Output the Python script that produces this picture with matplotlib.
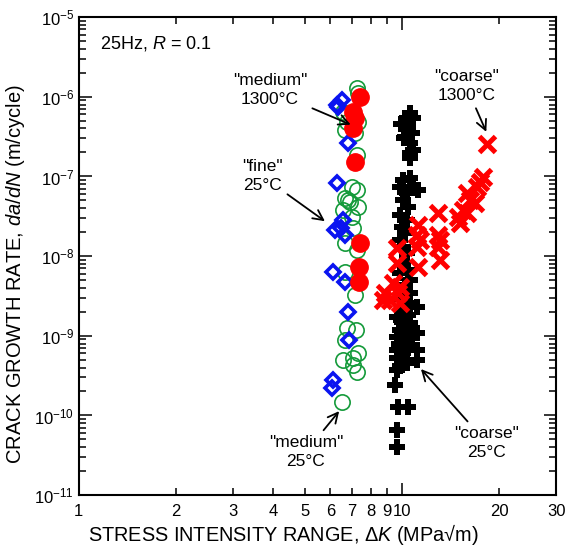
import matplotlib
matplotlib.use("Agg")
import matplotlib.pyplot as plt
import numpy as np

plt.rcParams['font.family'] = ['Liberation Sans', 'DejaVu Sans']
plt.rcParams['mathtext.fontset'] = 'custom'
plt.rcParams['mathtext.rm'] = 'Liberation Sans'
plt.rcParams['mathtext.it'] = 'Liberation Sans:italic'

# "fine" 25C  (blue open diamonds)
fine_dk = [6.28, 6.51, 6.34, 6.80, 6.28, 6.57, 6.20, 6.66, 6.46, 6.11, 6.66, 6.80, 6.85, 6.11, 6.07]
fine_rate = [7.9e-7, 9.1e-7, 7.4e-7, 2.6e-7, 8.3e-8, 2.84e-8, 2.12e-8, 1.84e-8, 2.25e-8,
             6.3e-9, 4.7e-9, 2.0e-9, 8.9e-10, 2.8e-10, 2.2e-10]

# "medium" 25C  (green open circles)
med25_dk = [7.24, 7.31, 6.57, 6.76, 7.31, 6.66, 7.15, 7.24, 6.99, 7.24, 6.66, 6.90, 6.80,
            7.31, 6.57, 7.00, 7.05, 6.66, 7.24, 6.66, 7.15, 6.76, 7.20, 6.66, 6.57, 7.31,
            7.05, 7.05, 7.26, 6.52]
med25_rate = [1.29e-6, 1.11e-6, 6.4e-7, 4.8e-7, 4.8e-7, 3.8e-7, 3.5e-7, 1.86e-7, 7.4e-8,
              6.7e-8, 5.4e-8, 4.8e-8, 5.1e-8, 4.1e-8, 3.8e-8, 3.1e-8, 2.25e-8, 1.46e-8,
              1.19e-8, 6.3e-9, 3.25e-9, 1.25e-9, 1.18e-9, 8.9e-10, 5.0e-10, 6.1e-10,
              5.3e-10, 4.3e-10, 3.5e-10, 1.48e-10]

# "medium" 1300C  (red filled circles)
med1300_dk = [7.41, 7.05, 7.15, 7.05, 7.15, 7.41, 7.36, 7.36]
med1300_rate = [9.9e-7, 6.4e-7, 5.4e-7, 4.05e-7, 1.52e-7, 1.46e-8, 7.3e-9, 4.7e-9]

# "coarse" 25C  (black pluses)
coarse25_dk = [10.59, 10.82, 10.36, 10.44, 10.74, 10.22, 10.59, 10.82, 10.59, 10.07, 10.59,
               9.86, 10.82, 10.36, 11.21, 10.07, 10.44, 9.86, 10.36, 10.0, 10.22, 9.86,
               10.07, 10.36, 10.0, 10.44, 9.86, 10.59, 10.07, 10.59, 11.13, 9.65, 10.07,
               10.59, 9.86, 11.13, 9.65, 10.36, 11.13, 9.65, 10.07, 9.65, 11.13, 10.36,
               9.65, 9.51, 9.72, 10.44, 9.65, 9.65, 9.86, 10.22, 10.07, 10.74,
               10.44, 10.22, 9.93, 10.15, 10.52, 9.79, 10.30, 10.0, 10.66, 10.22, 9.86,
               10.44, 10.15, 10.59, 9.93]
coarse25_rate = [6.24e-7, 5.4e-7, 5.4e-7, 4.17e-7, 3.5e-7, 3.12e-7, 2.62e-7, 2.14e-7,
                 1.97e-7, 9.0e-8, 9.5e-8, 7.4e-8, 7.1e-8, 6.2e-8, 6.7e-8, 5.1e-8, 4.1e-8,
                 3.3e-8, 2.84e-8, 2.32e-8, 1.95e-8, 1.59e-8, 1.30e-8, 1.09e-8, 8.2e-9,
                 6.7e-9, 6.1e-9, 5.0e-9, 3.76e-9, 3.44e-9, 2.30e-9, 1.72e-9, 1.93e-9,
                 1.45e-9, 1.18e-9, 1.08e-9, 9.7e-10, 8.9e-10, 6.6e-10, 6.6e-10, 6.1e-10,
                 5.3e-10, 5.0e-10, 4.6e-10, 3.7e-10, 2.4e-10, 1.28e-10, 1.28e-10, 6.6e-11,
                 4.0e-11, 2.9e-9, 1.5e-9, 7.7e-10, 7.7e-10,
                 2.6e-9, 2.1e-9, 1.6e-9, 1.3e-9, 1.0e-9, 8.0e-10, 7.0e-10, 5.6e-10,
                 1.2e-9, 4.4e-9, 4.2e-10, 1.8e-9, 3.0e-7, 1.7e-7, 4.6e-7]

# "coarse" 1300C  (red crosses)
coarse1300_dk = [18.33, 17.81, 17.44, 17.07, 15.90, 16.24, 16.83, 15.45, 14.91, 15.90, 15.12,
                 12.93, 11.21, 11.13, 11.37, 11.13, 12.93, 13.11, 12.93, 13.11, 9.65, 9.65,
                 11.21, 9.38, 8.86, 9.72, 9.18, 9.86, 8.73, 9.86]
coarse1300_rate = [2.55e-7, 9.8e-8, 8.5e-8, 7.4e-8, 6.2e-8, 5.1e-8, 4.6e-8, 3.8e-8, 3.1e-8,
                   3.5e-8, 2.6e-8, 3.5e-8, 2.45e-8, 1.84e-8, 1.59e-8, 1.30e-8, 1.84e-8,
                   1.59e-8, 1.30e-8, 8.9e-9, 1.26e-8, 8.2e-9, 7.3e-9, 4.6e-9, 3.44e-9,
                   3.44e-9, 2.8e-9, 2.58e-9, 2.8e-9, 4.1e-9]

xtick_vals = [2, 3, 4, 5, 6, 7, 8, 9, 20, 30]

fig = plt.figure(figsize=(5.67, 5.52), dpi=100)
ax = fig.add_axes([0.139, 0.103, 0.842, 0.866])

ax.plot(med25_dk, med25_rate, 'o', ms=11, mfc='none', mec='#149a3a', mew=1.2, ls='none')
ax.plot(fine_dk, fine_rate, 'D', ms=7.5, mfc='none', mec='#0a14f0', mew=2.6, ls='none')
ax.plot(med1300_dk, med1300_rate, 'o', ms=12.5, mfc='#ff0000', mec='#ff0000', ls='none')
ax.plot(coarse25_dk, coarse25_rate, 'P', ms=12, mfc='black', mec='black', mew=0, ls='none')
ax.plot(coarse1300_dk, coarse1300_rate, 'x', ms=11.5, mec='#ff0000', mew=3.6, ls='none')

ax.set_xscale('log')
ax.set_yscale('log')
ax.set_xlim(1, 30)
ax.set_ylim(1e-11, 1e-5)

ax.set_xticks([1, 10])
ax.set_xticklabels(['1', '10'])
ax.set_xticks(xtick_vals, minor=True)
ax.set_xticklabels([str(v) for v in xtick_vals], minor=True)
ax.yaxis.set_minor_locator(matplotlib.ticker.LogLocator(base=10, subs=np.arange(2, 10), numticks=20))
ax.yaxis.set_minor_formatter(matplotlib.ticker.NullFormatter())

ax.tick_params(which='both', direction='in', top=True, right=True, labelsize=12, width=1.1)
ax.tick_params(which='major', length=9)
ax.tick_params(which='minor', length=5)
ax.tick_params(axis='x', which='both', pad=6.5)
for s in ax.spines.values():
    s.set_linewidth(1.5)

ax.set_xlabel(r'STRESS INTENSITY RANGE, Δ$K$ (MPa√m)', fontsize=14.3)
ax.xaxis.set_label_coords(0.428, -0.057)
ax.set_ylabel(r'CRACK GROWTH RATE, $da/dN$ (m/cycle)', fontsize=14.5)
ax.yaxis.set_label_coords(-0.109, 0.462)

ax.text(0.045, 0.945, r'25Hz, $R$ = 0.1', transform=ax.transAxes, fontsize=13, va='center')

arrow = dict(arrowstyle='->', color='black', lw=1.3, mutation_scale=18, shrinkA=2, shrinkB=1)
tk = dict(fontsize=12.5, ha='center', va='center', linespacing=1.3)
ax.annotate('"medium"\n1300°C', xy=(7.0, 4.4e-7), xytext=(3.9, 1.21e-6), arrowprops=arrow, **tk)
ax.annotate('"fine"\n25°C', xy=(5.82, 2.68e-8), xytext=(3.69, 1.01e-7), arrowprops=arrow, **tk)
ax.annotate('"medium"\n25°C', xy=(6.43, 1.17e-10), xytext=(5.04, 3.48e-11), arrowprops=arrow, **tk)
ax.annotate('"coarse"\n25°C', xy=(11.37, 3.94e-10), xytext=(18.3, 4.5e-11), arrowprops=arrow, **tk)
ax.annotate('"coarse"\n1300°C', xy=(18.3, 3.5e-7), xytext=(15.8, 1.36e-6), arrowprops=arrow, **tk)

fig.savefig('out.png', dpi=100)
